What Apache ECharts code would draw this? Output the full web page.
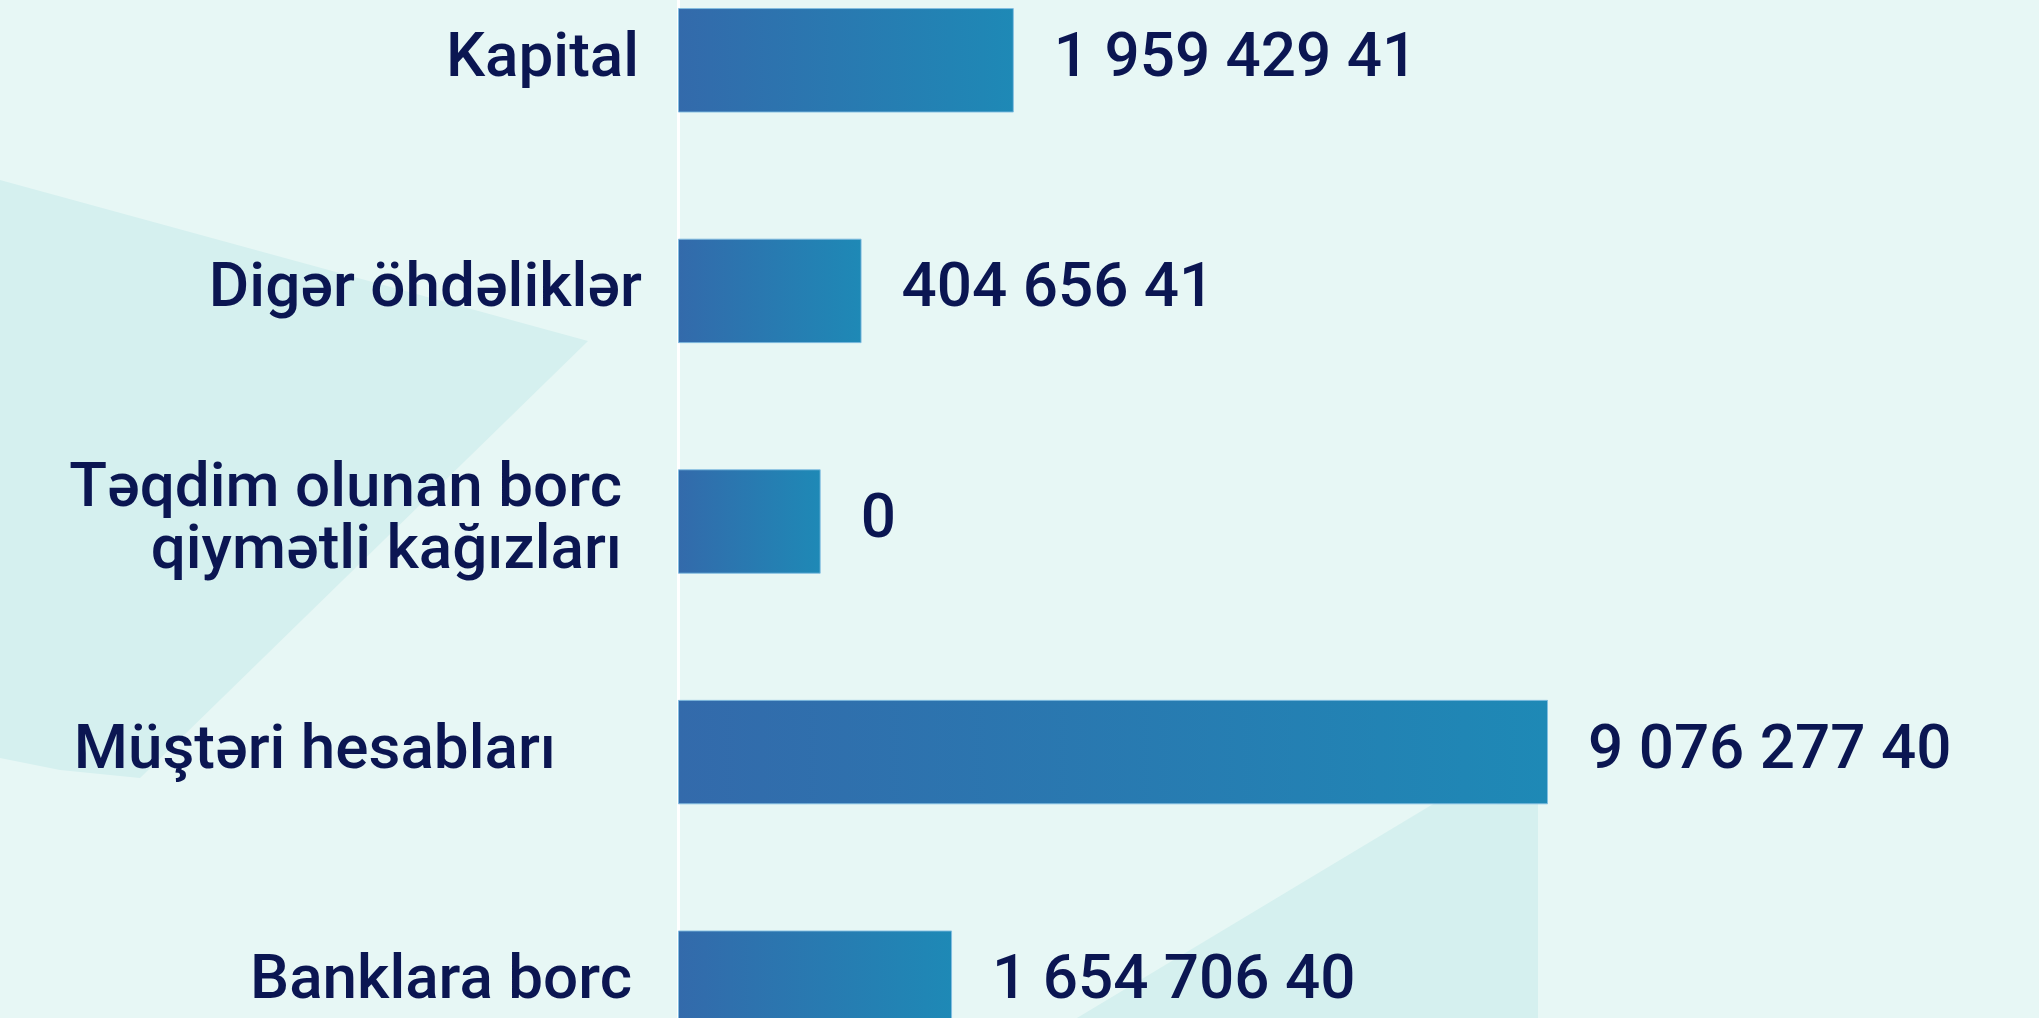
<!DOCTYPE html>
<html>
<head>
<meta charset="utf-8">
<title>Öhdəliklər və kapital</title>
<script src="https://cdn.jsdelivr.net/npm/echarts@6/dist/echarts.min.js"></script>
<style>
  html, body { margin: 0; padding: 0; background: #e7f7f5; }
  #chart { width: 2039px; height: 1018px; }
</style>
</head>
<body>
<div id="chart"></div>
<script>
// categories, top to bottom
const categories = [
  'Kapital',
  'Digər öhdəliklər',
  'Təqdim olunan borc\nqiymətli kağızları',
  'Müştəri hesabları',
  'Banklara borc',
];
// bar lengths as drawn, in % of the longest bar
const barLengths = [38.6, 21.1, 16.4, 100, 31.5];
// value texts printed next to the bars
const valueLabels = ['1 959 429 41', '404 656 41', '0', '9 076 277 40', '1 654 706 40'];

const navy = '#0b1652';
const font = 'Roboto';
// extra right padding of each category label (style only)
const labelPad = [3, 0, 20, 86, 10];

const rich = {};
labelPad.forEach((p, i) => {
  rich['p' + i] = {
    fontFamily: font,
    fontSize: 62,
    fontWeight: 500,
    color: navy,
    lineHeight: 62,
    padding: [0, p, 0, 0],
  };
});

const chart = echarts.init(document.getElementById('chart'));

chart.setOption({
  backgroundColor: '#e7f7f5',
  animation: false,
  graphic: [
    {
      type: 'polygon',
      z: -10,
      shape: {
        points: [[0, 180], [588, 341], [140, 778], [60, 770], [0, 758]],
      },
      style: { fill: '#d5f0ef' },
    },
    {
      type: 'polygon',
      z: -10,
      shape: {
        points: [[1538, 741], [1538, 1018], [1077, 1018]],
      },
      style: { fill: '#d5f0ef' },
    },
  ],
  grid: {
    left: 678,
    right: 491,
    top: -55,
    height: 1153,
    outerBoundsMode: 'none',
    containLabel: false,
  },
  xAxis: {
    type: 'value',
    min: 0,
    max: 100,
    show: false,
    splitLine: { show: false },
  },
  yAxis: {
    type: 'category',
    inverse: true,
    data: categories,
    axisTick: { show: false },
    axisLine: {
      show: true,
      lineStyle: { color: '#ffffff', width: 3 },
    },
    axisLabel: {
      margin: 36,
      align: 'right',
      fontFamily: font,
      fontSize: 62,
      fontWeight: 500,
      color: navy,
      lineHeight: 62,
      formatter: (value, idx) => value.split('\n').map((l) => `{p${idx}|${l}}`).join('\n'),
      rich: rich,
    },
  },
  series: [
    {
      type: 'bar',
      data: barLengths,
      barWidth: '45.3%',
      z: 1,
      itemStyle: {
        color: new echarts.graphic.LinearGradient(0, 0, 1, 0, [
          { offset: 0, color: '#336aab' },
          { offset: 1, color: '#1e89b6' },
        ]),
        borderColor: 'rgba(130,190,225,0.9)',
        borderWidth: 1,
      },
      label: {
        show: true,
        position: 'right',
        distance: 40,
        fontFamily: font,
        fontSize: 62,
        fontWeight: 500,
        color: navy,
        formatter: (p) => valueLabels[p.dataIndex],
      },
    },
  ],
});

window.addEventListener('resize', () => chart.resize());
</script>
</body>
</html>
